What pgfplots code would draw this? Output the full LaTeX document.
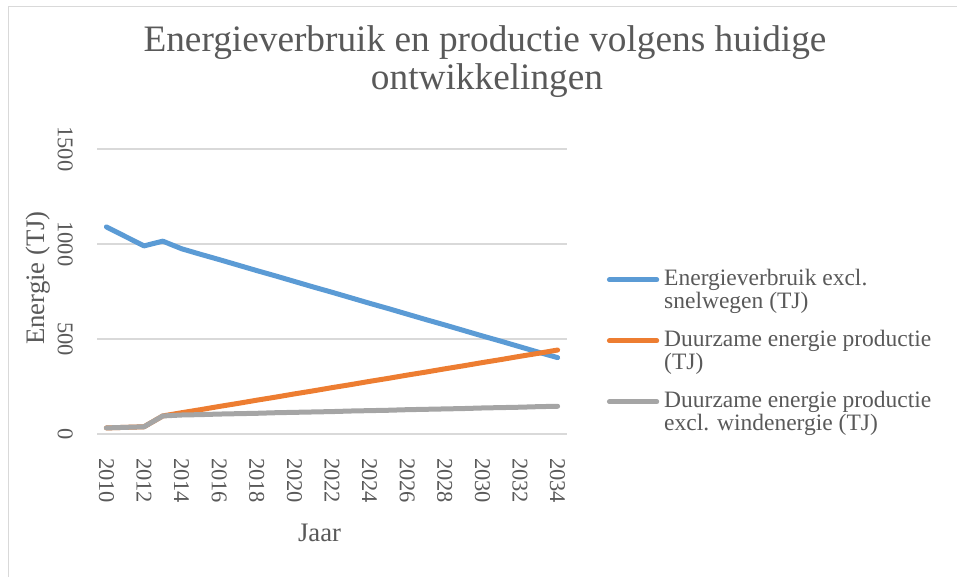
\documentclass[border=0pt]{standalone}
\usepackage{pgfplots}
\pgfplotsset{compat=1.18}
\usepackage{fontspec}
\setmainfont{Liberation Serif}
\definecolor{txt}{HTML}{595959}
\definecolor{grd}{HTML}{D9D9D9}
\definecolor{cblue}{HTML}{5B9BD5}
\definecolor{corange}{HTML}{ED7D31}
\definecolor{cgray}{HTML}{A5A5A5}

\pgfplotstableread{
year blue orange gray
2010 1090 32 32
2011 1040 35 35
2012 990 38 38
2013 1015 95 95
2014 975 112 100
2015 946 128 102
2016 918 145 105
2017 889 161 107
2018 860 178 109
2019 832 194 112
2020 803 211 114
2021 774 227 116
2022 746 244 118
2023 717 260 121
2024 688 277 123
2025 660 293 125
2026 631 310 128
2027 602 326 130
2028 574 343 132
2029 545 359 134
2030 516 376 137
2031 488 392 139
2032 459 409 141
2033 430 425 144
2034 402 442 146
}\datatable

\newcommand{\legtwo}[2]{\vtop{\hbox{#1}\hbox{#2}}}

\begin{document}
\begin{tikzpicture}
\useasboundingbox (0pt,0pt) rectangle (957pt,576pt);
\draw[grd, line width=1.5pt] (8.5pt,569.5pt) rectangle (1000pt,-100pt);

\node[txt, font=\fontsize{37.3}{38}\selectfont, anchor=base, inner sep=0pt] at (485pt,524.5pt) {Energieverbruik en productie volgens huidige};
\node[txt, font=\fontsize{37.3}{38}\selectfont, anchor=base, inner sep=0pt] at (487pt,486.5pt) {ontwikkelingen};

\node[txt, font=\fontsize{26.7}{28}\selectfont, rotate=90] at (38pt,298pt) {Energie (TJ)};
\node[txt, font=\fontsize{26.7}{28}\selectfont] at (319.5pt,43pt) {Jaar};

\begin{axis}[
  at={(97pt,142pt)}, anchor=south west,
  width=470pt, height=285pt, scale only axis,
  xmin=2009.5, xmax=2034.5, ymin=0, ymax=1500,
  xtick={2010,2012,...,2034}, ytick={0,500,1000,1500},
  ymajorgrids, grid style={draw=grd, line width=1.3pt},
  axis line style={draw=none}, major tick length=0pt,
  /pgf/number format/1000 sep={},
  /pgf/number format/assume math mode=true,
  tick label style={txt, font=\fontsize{22.5}{26}\selectfont, inner sep=0pt},
  x tick label style={rotate=-90, anchor=west},
  y tick label style={rotate=-90, anchor=north},
  xticklabel shift=24pt, yticklabel shift=24pt,
  clip=false,
  legend style={at={(1.0845,0.578)}, anchor=north west, draw=none, fill=none,
    inner sep=0pt, row sep=43.2pt, column sep=0pt,
    font=\fontsize{23.5}{23}\selectfont, text=txt,
    nodes={inner sep=0pt, outer sep=0pt},
    cells={anchor=base west}},
  legend image code/.code={\draw[#1, line cap=round] (0pt,6pt) -- (47.3pt,6pt);},
  every axis plot/.append style={line width=5pt, line join=round, line cap=round},
]
\addplot[cblue, mark=none] table[x=year, y=blue] {\datatable};
\addlegendentry{\hspace{5pt}\legtwo{Energieverbruik excl.}{snelwegen (TJ)}}
\addplot[corange, mark=none] table[x=year, y=orange] {\datatable};
\addlegendentry{\hspace{5pt}\legtwo{Duurzame energie productie}{(TJ)}}
\addplot[cgray, mark=none] table[x=year, y=gray] {\datatable};
\addlegendentry{\hspace{5pt}\legtwo{Duurzame energie productie}{excl. windenergie (TJ)}}
\end{axis}
\end{tikzpicture}
\end{document}
